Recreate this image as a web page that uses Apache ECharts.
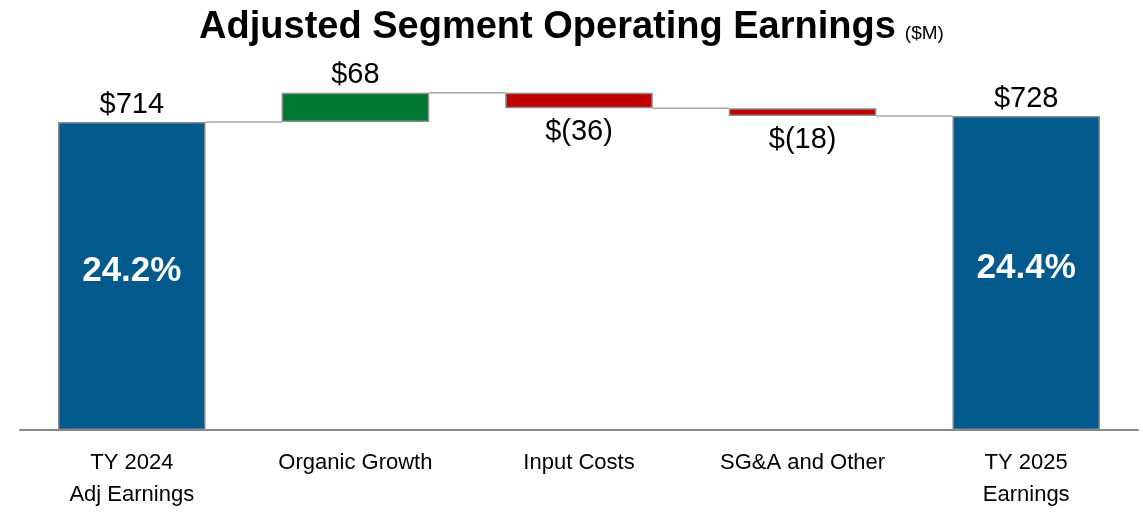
<!DOCTYPE html>
<html>
<head>
<meta charset="utf-8">
<script src="https://cdn.jsdelivr.net/npm/echarts@6/dist/echarts.min.js"></script>
<style>
  html, body { margin: 0; padding: 0; background: #fff; }
  #chart { width: 1143px; height: 512px; }
</style>
</head>
<body>
<div id="chart"></div>
<script>
// waterfall data ($M)
var categories = ['TY 2024\nAdj Earnings', 'Organic Growth', 'Input Costs', 'SG&A and Other', 'TY 2025\nEarnings'];
var baseValues = [0, 714, 746, 728, 0];
var barValues = [714, 68, 36, 18, 728];
var valueLabels = ['$714', '$68', '$(36)', '$(18)', '$728'];
var marginLabels = ['24.2%', '', '', '', '24.4%'];
var barColors = ['#02598C', '#007A33', '#C00000', '#C00000', '#02598C'];
var labelPos = ['top', 'top', 'bottom', 'bottom', 'top'];
// level where each connector runs from bar i to bar i+1
var connectorLevels = [714, 782, 746, 728];

var font = "'Liberation Sans', Arial, sans-serif";

var chart = echarts.init(document.getElementById('chart'));

var option = {
  animation: false,
  title: {
    text: '{main|Adjusted Segment Operating Earnings} {unit|($M)}',
    left: 'center',
    top: 4,
    textStyle: {
      rich: {
        main: { fontFamily: font, fontWeight: 'bold', fontSize: 38, color: '#000' },
        unit: { fontFamily: font, fontWeight: 'normal', fontSize: 19, color: '#000', padding: [12, 0, 0, 4] }
      }
    }
  },
  grid: { left: 20, right: 5, top: 85, bottom: 82 },
  xAxis: {
    type: 'category',
    data: categories,
    axisLine: { lineStyle: { color: '#888', width: 2 } },
    axisTick: { show: false },
    axisLabel: {
      interval: 0,
      hideOverlap: false,
      color: '#000',
      fontFamily: font,
      fontSize: 22,
      lineHeight: 32,
      margin: 17
    }
  },
  yAxis: {
    type: 'value',
    min: 0,
    max: 800,
    show: false,
    splitLine: { show: false }
  },
  series: [
    {
      type: 'bar',
      stack: 'wf',
      data: baseValues,
      itemStyle: { color: 'transparent' },
      silent: true
    },
    {
      type: 'bar',
      stack: 'wf',
      barWidth: '66%',
      data: barValues.map(function (v, i) {
        return {
          value: v,
          itemStyle: { color: barColors[i], borderColor: '#8c8c8c', borderWidth: 1.5 },
          label: { position: labelPos[i], distance: labelPos[i] === 'bottom' ? 9 : 3 }
        };
      }),
      label: {
        show: true,
        color: '#000',
        fontFamily: font,
        fontSize: 29,
        formatter: function (p) { return valueLabels[p.dataIndex]; }
      }
    },
    {
      type: 'bar',
      stack: 'overlay',
      barGap: '-100%',
      barWidth: '66%',
      data: barValues.map(function (v, i) { return marginLabels[i] ? v : 0; }),
      itemStyle: { color: 'transparent' },
      label: {
        show: true,
        position: 'inside',
        color: '#fff',
        fontWeight: 'bold',
        fontFamily: font,
        fontSize: 35,
        offset: [0, -5],
        formatter: function (p) { return marginLabels[p.dataIndex]; }
      },
      silent: true
    },
    {
      type: 'custom',
      data: connectorLevels.map(function (lv, i) { return [i, lv]; }),
      renderItem: function (params, api) {
        var i = api.value(0);
        var lv = api.value(1);
        var band = api.size([1, 0])[0];
        var half = band * 0.33;
        var p1 = api.coord([i, lv]);
        var p2 = api.coord([i + 1, lv]);
        return {
          type: 'line',
          shape: { x1: p1[0] + half, y1: p1[1], x2: p2[0] - half, y2: p2[1] },
          style: { stroke: '#a6a6a6', lineWidth: 1.5 }
        };
      },
      z: 1
    }
  ]
};

chart.setOption(option);
</script>
</body>
</html>
